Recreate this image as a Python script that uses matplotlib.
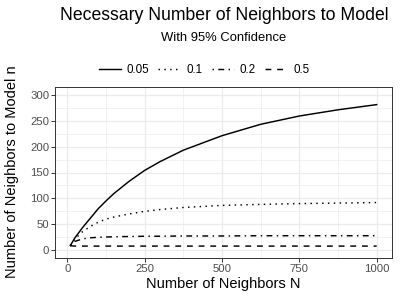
import matplotlib.pyplot as plt
from matplotlib.ticker import MultipleLocator

plt.rcParams['font.family'] = ['Liberation Sans', 'DejaVu Sans']

# values
N = [10, 25, 50, 75, 100, 125, 150, 200, 250, 300, 375, 500, 625, 750, 875, 1000]
n_005 = [9, 24, 44, 62, 80, 95, 109, 133, 154, 171, 193, 221, 243, 259, 271, 281]
n_01 = [9, 22, 36, 46, 54, 60, 64, 70, 75, 78.5, 82.5, 86.5, 88.5, 90, 91, 92]
n_02 = [9, 17, 22, 24, 25, 25.5, 26, 26.5, 27, 27, 27.5, 27.5, 28, 28, 28, 28]
n_05 = [8.5, 8, 8, 8, 8, 8, 8, 8, 8, 8, 8, 8, 8, 8, 8, 8]

labels = ['0.05', '0.1', '0.2', '0.5']
series = [n_005, n_01, n_02, n_05]
styles = ['-', (0, (1, 3)), (0, (1, 3, 4, 3)), (0, (4, 4))]

fig = plt.figure(figsize=(4, 3), dpi=100)
ax = fig.add_axes([55 / 400, 1 - 258 / 300, 337 / 400, 171 / 300])

for lab, vals, ls in zip(labels, series, styles):
    ax.plot(N, vals, color='black', lw=1.05, linestyle=ls, label=lab)

ax.set_xlim(-39.5, 1049.5)
ax.set_ylim(-15, 315)
ax.xaxis.set_major_locator(MultipleLocator(250))
ax.xaxis.set_minor_locator(MultipleLocator(125))
ax.yaxis.set_major_locator(MultipleLocator(50))
ax.yaxis.set_minor_locator(MultipleLocator(25))
ax.grid(which='major', color='#EBEBEB', lw=0.9)
ax.grid(which='minor', color='#EBEBEB', lw=0.45)
ax.set_axisbelow(True)
ax.tick_params(which='major', length=2.6, width=0.7, color='#333333',
               labelsize=8.2, labelcolor='#4D4D4D', pad=1.5)
ax.tick_params(which='minor', length=0)
for s in ax.spines.values():
    s.set_color('#333333')
    s.set_linewidth(0.7)

fig.text(224 / 400, 1 - 15 / 300, 'Necessary Number of Neighbors to Model',
         ha='center', va='center', fontsize=12.7)
fig.text(224 / 400, 1 - 38 / 300, 'With 95% Confidence',
         ha='center', va='center', fontsize=9.4)
fig.text(223.5 / 400, 1 - 284 / 300, 'Number of Neighbors N',
         ha='center', va='center', fontsize=10.5)
fig.text(12.5 / 400, 1 - 172 / 300, 'Number of Neighbors to Model n',
         ha='center', va='center', rotation=90, fontsize=10.5)

fig.legend(loc='center', bbox_to_anchor=(204 / 400, 1 - 70 / 300), ncol=4,
           frameon=False, fontsize=8.4, handlelength=1.9, handletextpad=0.5,
           columnspacing=0.8, borderpad=0)

fig.savefig('out.png', dpi=100)
